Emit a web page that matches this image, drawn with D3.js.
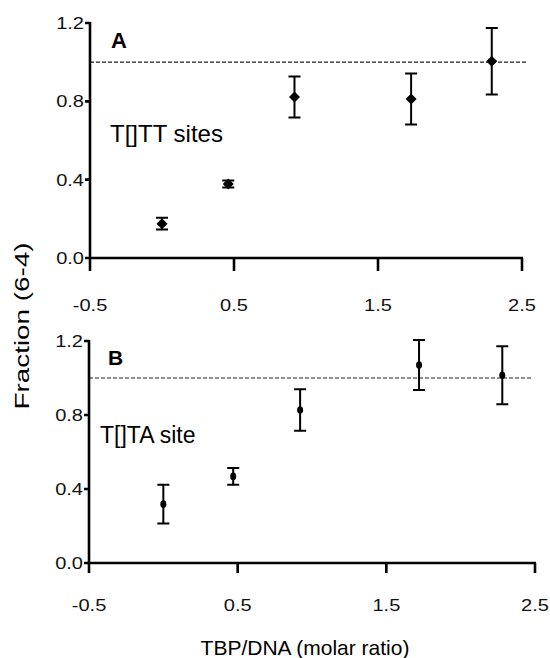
<!DOCTYPE html>
<html>
<head>
<meta charset="utf-8">
<script src="https://cdn.jsdelivr.net/npm/d3@7"></script>
</head>
<body style="margin:0">
<svg id="chart" width="550" height="658"></svg>
<script>
// TBP/DNA molar ratio at which each sample was measured
const ratiosA = [0.0, 0.46, 0.92, 1.73, 2.29];
const ratiosB = [0.0, 0.47, 0.92, 1.72, 2.28];
// Fraction (6-4) and its error for the T[]TT sites
const fractionA = [0.175, 0.378, 0.822, 0.812, 1.005];
const errorA = [0.03, 0.018, 0.105, 0.13, 0.17];
// Fraction (6-4) and its error for the T[]TA site
const fractionB = [0.318, 0.468, 0.827, 1.07, 1.015];
const errorB = [0.105, 0.045, 0.112, 0.135, 0.157];
// Axis ticks
const xTicks = [-0.5, 0.5, 1.5, 2.5];
const yTicks = [0.0, 0.4, 0.8, 1.2];
const referenceLevel = 1.0;

const FONT = "Liberation Sans, Arial, Helvetica, sans-serif";
const svg = d3.select("#chart");
const fmt = d => d.toFixed(1);
const frames = [];

function panel(cfg) {
  const x = d3.scaleLinear().domain([-0.5, 2.5]).range([cfg.left, cfg.right]);
  const y = d3.scaleLinear().domain([0, 1.2]).range([cfg.bottom, cfg.top]);
  frames.push({ x, y, tickLen: cfg.tickLen });

  // dashed reference line at fraction 1.0
  svg.append("line")
    .attr("x1", x(-0.5)).attr("x2", cfg.dashEnd)
    .attr("y1", y(referenceLevel)).attr("y2", y(referenceLevel))
    .attr("stroke", "#222").attr("stroke-width", 1.1)
    .attr("stroke-dasharray", "4,2");

  // y tick labels
  svg.selectAll(null).data(yTicks).join("text")
    .attr("transform", d => `translate(${x(-0.5) - 6},${y(d)}) scale(1.18,1)`)
    .attr("text-anchor", "end").attr("dy", "0.36em")
    .attr("font-family", FONT).attr("font-size", 17).attr("fill", "#111")
    .text(fmt);

  // x tick labels
  svg.selectAll(null).data(xTicks).join("text")
    .attr("transform", d => `translate(${x(d)},${y(0) + cfg.xLabelOffset}) scale(1.18,1)`)
    .attr("text-anchor", "middle").attr("dy", "0.36em")
    .attr("font-family", FONT).attr("font-size", 17).attr("fill", "#111")
    .text(fmt);

  // error bars
  const data = cfg.ratios.map((r, i) => ({ r, v: cfg.values[i], e: cfg.errors[i] }));
  svg.selectAll(null).data(data).join("path")
    .attr("d", d => {
      const cx = x(d.r), t = y(d.v + d.e), b = y(d.v - d.e);
      return `M${cx},${t}V${b}M${cx - 6},${t}H${cx + 6}M${cx - 6},${b}H${cx + 6}`;
    })
    .attr("fill", "none").attr("stroke", "#000").attr("stroke-width", 2);

  // markers
  if (cfg.marker === "diamond") {
    svg.selectAll(null).data(data).join("path")
      .attr("d", d => {
        const cx = x(d.r), cy = y(d.v), s = 5.5;
        return `M${cx},${cy - s}L${cx + s},${cy}L${cx},${cy + s}L${cx - s},${cy}Z`;
      })
      .attr("fill", "#000");
  } else {
    svg.selectAll(null).data(data).join("ellipse")
      .attr("cx", d => x(d.r)).attr("cy", d => y(d.v))
      .attr("rx", 3).attr("ry", 3.8).attr("fill", "#000");
  }

  // panel letter and site label
  svg.append("text").attr("x", cfg.letterX).attr("y", cfg.letterY)
    .attr("font-family", FONT)
    .attr("font-size", cfg.letterSize).attr("font-weight", "bold").text(cfg.letter);
  svg.append("text").attr("x", cfg.labelX).attr("y", cfg.labelY)
    .attr("font-family", FONT)
    .attr("font-size", cfg.labelSize).text(cfg.label);
}

panel({
  left: 90, right: 522, top: 23, bottom: 258, dashEnd: 526, tickLen: 13,
  xLabelOffset: 47,
  ratios: ratiosA, values: fractionA, errors: errorA, marker: "diamond",
  letter: "A", letterX: 111, letterY: 48, letterSize: 22,
  label: "T[]TT sites", labelX: 110, labelY: 142, labelSize: 24
});

panel({
  left: 89, right: 535, top: 341, bottom: 563, dashEnd: 532, tickLen: 10,
  xLabelOffset: 42,
  ratios: ratiosB, values: fractionB, errors: errorB, marker: "dot",
  letter: "B", letterX: 108, letterY: 365, letterSize: 21,
  label: "T[]TA site", labelX: 100, labelY: 443, labelSize: 23
});

// shared axis titles
svg.append("text")
  .attr("transform", "translate(29,326) rotate(-90)")
  .attr("text-anchor", "middle")
  .attr("font-family", FONT)
  .attr("font-size", 21)
  .attr("textLength", 167).attr("lengthAdjust", "spacingAndGlyphs")
  .text("Fraction (6-4)");

svg.append("text")
  .attr("x", 305).attr("y", 655)
  .attr("text-anchor", "middle")
  .attr("font-family", FONT)
  .attr("font-size", 21)
  .text("TBP/DNA (molar ratio)");

// heavy L-shaped axis frames with their ticks, on top of everything
frames.forEach(({ x, y, tickLen }) => {
  const x0 = x(-0.5), y0 = y(0);
  let d = `M${x0},${y(1.2) - 1}V${y0}H${x(2.5) + 1}`;
  yTicks.forEach(t => { d += `M${x0 - 5},${y(t)}H${x0}`; });
  xTicks.forEach(t => { d += `M${x(t)},${y0}V${y0 + tickLen}`; });
  svg.append("path").attr("d", d)
    .attr("fill", "none").attr("stroke", "#000").attr("stroke-width", 2.6);
});
</script>
</body>
</html>
